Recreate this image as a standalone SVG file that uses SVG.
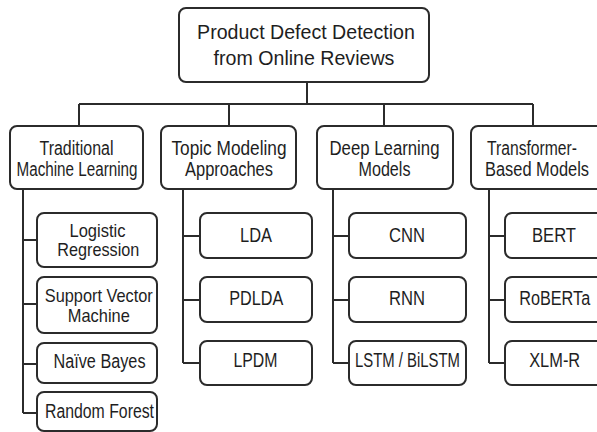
<svg xmlns="http://www.w3.org/2000/svg" width="597" height="432" viewBox="0 0 597 432">
  <style>
    .box { fill: #ffffff; stroke: #2b2b2b; stroke-width: 2; }
    .wire { fill: none; stroke: #2b2b2b; stroke-width: 2; }
    text { fill: #1e1e1e; text-anchor: middle; }
    .root { font-family: "Liberation Sans", Arial, sans-serif; font-size: 19.6px; }
    .lbl { font-family: "Liberation Sans Narrow", "Liberation Sans", Arial, sans-serif; font-size: 20px; }
    .tight { font-size: 18.5px; }
  </style>
  <rect width="597" height="432" fill="#ffffff"/>

  <!-- connectors -->
  <g id="connectors" class="wire">
    <path d="M307 82 V104 M79 104 H533 M79 104 V126 M229 104 V126 M384 104 V126 M533 104 V126"/>
    <path d="M23 189 V413 M23 240 H37 M23 304 H37 M23 364 H37 M23 413 H37"/>
    <path d="M183 189 V363 M183 236 H200 M183 300 H200 M183 363 H200"/>
    <path d="M333 189 V363 M333 236 H349 M333 300 H349 M333 363 H349"/>
    <path d="M489 189 V363 M489 236 H505 M489 300 H505 M489 363 H505"/>
  </g>

  <!-- root -->
  <g id="root">
    <rect class="box" x="179" y="8" width="250" height="74" rx="7"/>
    <text class="root" x="306" y="39">Product Defect Detection</text>
    <text class="root" x="304" y="65">from Online Reviews</text>
  </g>

  <!-- categories -->
  <g id="cat-traditional">
    <rect class="box" x="10" y="126" width="133" height="63" rx="7"/>
    <text class="lbl" x="76.5" y="155" textLength="74" lengthAdjust="spacingAndGlyphs">Traditional</text>
    <text class="lbl" x="77" y="176" textLength="121" lengthAdjust="spacingAndGlyphs">Machine Learning</text>
  </g>
  <g id="cat-topic">
    <rect class="box" x="161" y="126" width="135" height="63" rx="7"/>
    <text class="lbl" x="229" y="155" textLength="115" lengthAdjust="spacingAndGlyphs">Topic Modeling</text>
    <text class="lbl" x="229" y="176" textLength="88" lengthAdjust="spacingAndGlyphs">Approaches</text>
  </g>
  <g id="cat-deep">
    <rect class="box" x="317" y="126" width="136" height="63" rx="7"/>
    <text class="lbl" x="384.5" y="155" textLength="110" lengthAdjust="spacingAndGlyphs">Deep Learning</text>
    <text class="lbl" x="384.5" y="176" textLength="52" lengthAdjust="spacingAndGlyphs">Models</text>
  </g>
  <g id="cat-transformer">
    <rect class="box" x="471" y="126" width="133" height="63" rx="7"/>
    <text class="lbl" x="532" y="155" textLength="90" lengthAdjust="spacingAndGlyphs">Transformer-</text>
    <text class="lbl" x="537" y="176" textLength="104" lengthAdjust="spacingAndGlyphs">Based Models</text>
  </g>

  <!-- traditional machine learning methods -->
  <g id="logistic-regression">
    <rect class="box" x="37" y="213" width="120" height="54" rx="7"/>
    <text class="lbl tight" x="97.5" y="236.5" textLength="56" lengthAdjust="spacingAndGlyphs">Logistic</text>
    <text class="lbl tight" x="98.3" y="256" textLength="82" lengthAdjust="spacingAndGlyphs">Regression</text>
  </g>
  <g id="svm">
    <rect class="box" x="37" y="277" width="120" height="56" rx="7"/>
    <text class="lbl tight" x="98.8" y="302" textLength="108" lengthAdjust="spacingAndGlyphs">Support Vector</text>
    <text class="lbl tight" x="98.8" y="322" textLength="62" lengthAdjust="spacingAndGlyphs">Machine</text>
  </g>
  <g id="naive-bayes">
    <rect class="box" x="37" y="343" width="120" height="40" rx="7"/>
    <text class="lbl" x="99.5" y="368.3" textLength="92" lengthAdjust="spacingAndGlyphs">Naïve Bayes</text>
  </g>
  <g id="random-forest">
    <rect class="box" x="37" y="392" width="120" height="39" rx="7"/>
    <text class="lbl" x="99.5" y="418.3" textLength="109" lengthAdjust="spacingAndGlyphs">Random Forest</text>
  </g>

  <!-- topic models -->
  <g id="lda">
    <rect class="box" x="200" y="213" width="112" height="45" rx="7"/>
    <text class="lbl" x="256" y="241.7" textLength="32" lengthAdjust="spacingAndGlyphs">LDA</text>
  </g>
  <g id="pdlda">
    <rect class="box" x="200" y="277" width="112" height="45" rx="7"/>
    <text class="lbl" x="256.3" y="305" textLength="54" lengthAdjust="spacingAndGlyphs">PDLDA</text>
  </g>
  <g id="lpdm">
    <rect class="box" x="200" y="341" width="112" height="44" rx="7"/>
    <text class="lbl" x="255.5" y="367.3" textLength="44" lengthAdjust="spacingAndGlyphs">LPDM</text>
  </g>

  <!-- deep learning models -->
  <g id="cnn">
    <rect class="box" x="349" y="213" width="117" height="45" rx="7"/>
    <text class="lbl" x="407" y="241.7" textLength="36" lengthAdjust="spacingAndGlyphs">CNN</text>
  </g>
  <g id="rnn">
    <rect class="box" x="349" y="277" width="117" height="45" rx="7"/>
    <text class="lbl" x="407" y="305" textLength="36" lengthAdjust="spacingAndGlyphs">RNN</text>
  </g>
  <g id="lstm">
    <rect class="box" x="349" y="341" width="117" height="44" rx="7"/>
    <text class="lbl" x="407.5" y="367.3" textLength="105" lengthAdjust="spacingAndGlyphs">LSTM / BiLSTM</text>
  </g>

  <!-- transformer models -->
  <g id="bert">
    <rect class="box" x="505" y="213" width="100" height="45" rx="7"/>
    <text class="lbl" x="554" y="241.7" textLength="44" lengthAdjust="spacingAndGlyphs">BERT</text>
  </g>
  <g id="roberta">
    <rect class="box" x="505" y="277" width="100" height="45" rx="7"/>
    <text class="lbl" x="554.7" y="305" textLength="71" lengthAdjust="spacingAndGlyphs">RoBERTa</text>
  </g>
  <g id="xlm-r">
    <rect class="box" x="505" y="341" width="100" height="44" rx="7"/>
    <text class="lbl" x="554.7" y="367.3" textLength="51" lengthAdjust="spacingAndGlyphs">XLM-R</text>
  </g>
</svg>
